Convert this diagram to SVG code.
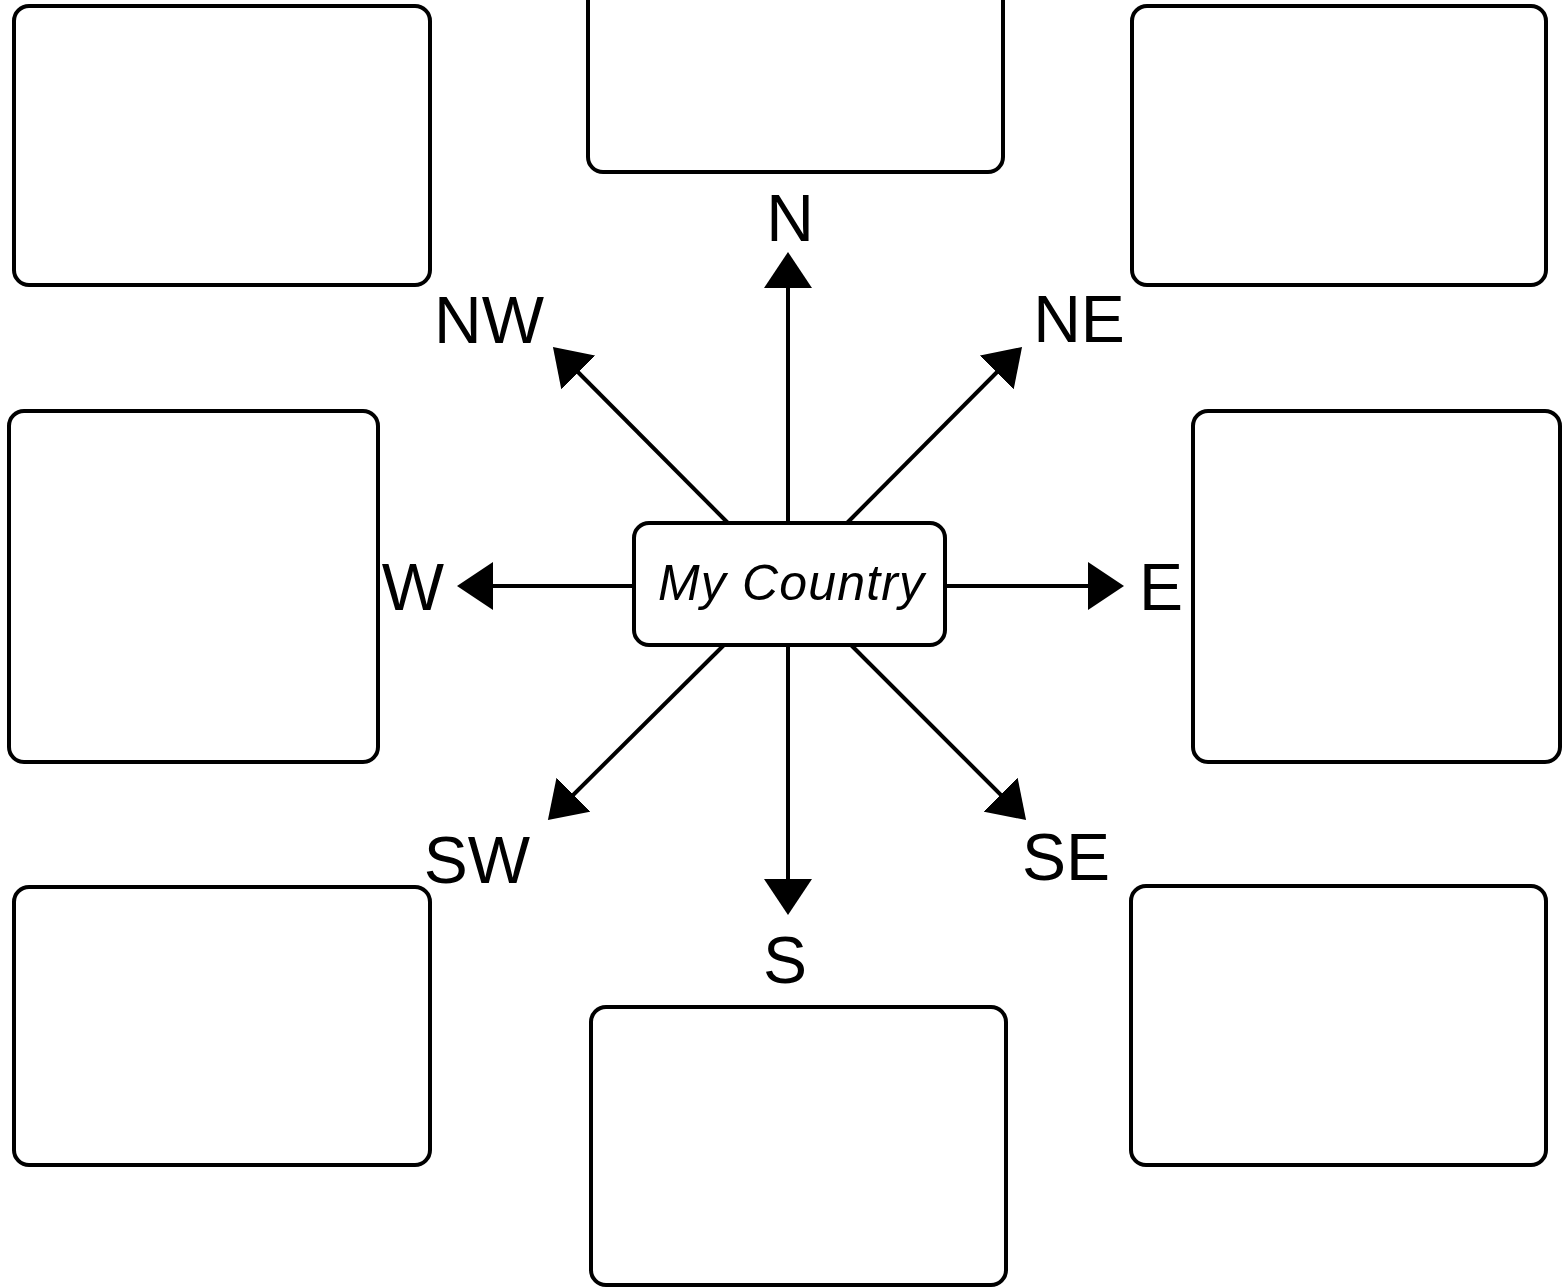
<svg xmlns="http://www.w3.org/2000/svg" width="1563" height="1287" viewBox="0 0 1563 1287">
<style>
.box{fill:#fff;stroke:#000;stroke-width:4}
.lbl{font-family:"Liberation Sans",Arial,sans-serif;font-size:66px;fill:#000;text-anchor:middle}
.ctr{font-family:"Liberation Sans",Arial,sans-serif;font-size:50px;font-style:italic;fill:#000;text-anchor:middle}
.arr{stroke:#000;stroke-width:4;fill:none;marker-end:url(#ah)}
</style>
<defs>
<marker id="ah" markerUnits="userSpaceOnUse" viewBox="0 0 36 48" markerWidth="36" markerHeight="48" refX="26" refY="24" orient="auto">
<path d="M0,0 L36,24 L0,48 Z" fill="#000"/>
</marker>
</defs>
<rect width="1563" height="1287" fill="#fff"/>
<g id="box-nw"><rect class="box" x="14" y="6" width="416" height="279" rx="15"/></g>
<g id="box-n"><rect class="box" x="588" y="-30" width="415" height="202" rx="15"/></g>
<g id="box-ne"><rect class="box" x="1132" y="6" width="414" height="279" rx="15"/></g>
<g id="box-w"><rect class="box" x="9" y="411" width="369" height="351" rx="15"/></g>
<g id="box-e"><rect class="box" x="1193" y="411" width="367" height="351" rx="15"/></g>
<g id="box-sw"><rect class="box" x="14" y="887" width="416" height="278" rx="15"/></g>
<g id="box-s"><rect class="box" x="591" y="1007" width="415" height="278" rx="15"/></g>
<g id="box-se"><rect class="box" x="1131" y="886" width="415" height="279" rx="15"/></g>
<g id="connectors">
<line class="arr" x1="788" y1="523" x2="788" y2="262"/>
<line class="arr" x1="788" y1="645" x2="788" y2="905"/>
<line class="arr" x1="945" y1="586" x2="1114" y2="586"/>
<line class="arr" x1="634" y1="586" x2="467" y2="586"/>
<line class="arr" x1="728" y1="523" x2="560" y2="354"/>
<line class="arr" x1="847" y1="523" x2="1015" y2="354"/>
<line class="arr" x1="724" y1="645" x2="555" y2="813"/>
<line class="arr" x1="851" y1="645" x2="1019" y2="813"/>
</g>
<g id="center"><rect class="box" x="634" y="523" width="311" height="122" rx="15"/>
<text class="ctr" x="791" y="600" textLength="266">My Country</text></g>
<g id="labels">
<text class="lbl" x="790" y="241">N</text>
<text class="lbl" x="489" y="343">NW</text>
<text class="lbl" x="1079" y="342">NE</text>
<text class="lbl" x="413" y="610">W</text>
<text class="lbl" x="1161" y="610">E</text>
<text class="lbl" x="477" y="883">SW</text>
<text class="lbl" x="1066" y="880">SE</text>
<text class="lbl" x="785" y="983">S</text>
</g>
</svg>
